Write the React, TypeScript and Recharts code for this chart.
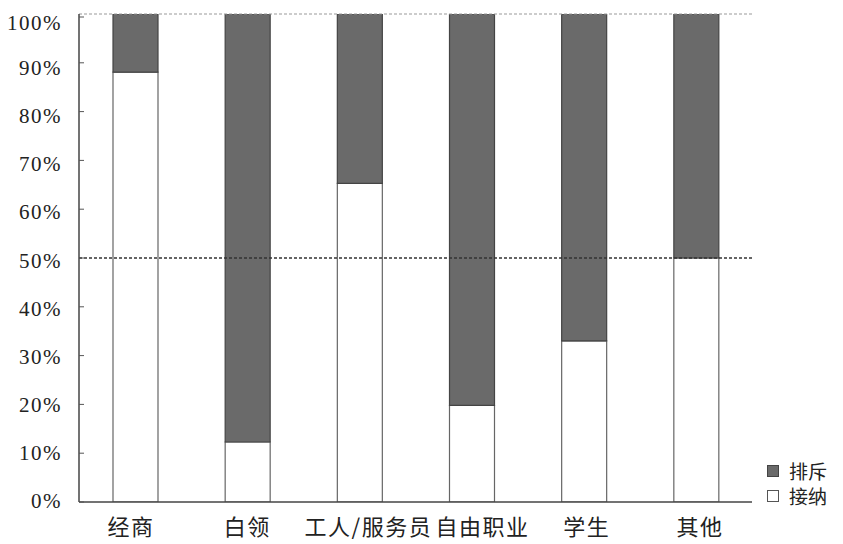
import React from 'react';
import { BarChart, Bar, XAxis, YAxis, ReferenceLine, Legend } from 'recharts';

const categories = ['经商', '白领', '工人/服务员', '自由职业', '学生', '其他'];
const acceptValues = [88.1, 12.3, 65.3, 19.8, 33.0, 50.0];
const rejectValues = [11.9, 87.7, 34.7, 80.2, 67.0, 50.0];
const yTicks = [0, 10, 20, 30, 40, 50, 60, 70, 80, 90, 100];
const legendItems = [
  { name: '排斥', fill: '#6a6a6a', stroke: '#444' },
  { name: '接纳', fill: '#ffffff', stroke: '#555' },
];

const data = categories.map((c, i) => ({ name: c, accept: acceptValues[i], reject: rejectValues[i] }));

const SERIF = '"Liberation Serif", "DejaVu Serif", serif';
const CJK = '"Noto Sans CJK SC", "Liberation Serif", serif';
const labelShift = [-4, 0, 9, 11, 3, 4];

const YTick = (props: any) => {
  const { x, y, payload } = props;
  const shift = (payload.value / 100) * 7 - 1;
  return (
    <g>
      <line x1={x + 8} x2={x + 13} y1={y} y2={y} stroke="#555" strokeWidth={1} />
      <text
        x={x - 9}
        y={y + shift}
        dy={7}
        textAnchor="end"
        style={{ fontFamily: SERIF, fontSize: 21, letterSpacing: 1.5 }}
        fill="#222"
      >
        {`${payload.value}%`}
      </text>
    </g>
  );
};

const XTick = (props: any) => {
  const { x, y, payload, index } = props;
  return (
    <text
      x={x + (labelShift[index] || 0)}
      y={y + 25}
      textAnchor="middle"
      style={{ fontFamily: CJK, fontSize: 22, letterSpacing: 1.5 }}
      fill="#222"
    >
      {payload.value}
    </text>
  );
};

const LegendContent = () => (
  <div style={{ fontFamily: CJK, fontSize: 19, color: '#222' }}>
    {legendItems.map((it) => (
      <div key={it.name} style={{ display: 'flex', alignItems: 'center', height: 25, lineHeight: '22px' }}>
        <span
          style={{
            display: 'inline-block',
            width: 10,
            height: 10,
            background: it.fill,
            border: `1px solid ${it.stroke}`,
            marginRight: 10,
          }}
        />
        <span>{it.name}</span>
      </div>
    ))}
  </div>
);

export default function App() {
  return (
    <BarChart
      width={835}
      height={536}
      data={data}
      margin={{ top: 6, right: 11, left: 0, bottom: 0 }}
      barSize={45}
    >
      <XAxis
        dataKey="name"
        height={42}
        axisLine={{ stroke: '#444', strokeWidth: 1.5 }}
        tickLine={false}
        tick={<XTick />}
        interval={0}
      />
      <YAxis
        yAxisId="l"
        width={71}
        domain={[0, 100]}
        ticks={yTicks}
        axisLine={{ stroke: '#444', strokeWidth: 1.5 }}
        tickLine={false}
        tick={<YTick />}
        allowDataOverflow
      />
      <YAxis
        yAxisId="r"
        orientation="right"
        width={0}
        domain={[0, 100]}
        tick={false}
        tickLine={false}
        axisLine={{ stroke: '#999', strokeDasharray: '3 2' }}
      />
      <ReferenceLine yAxisId="l" y={100} stroke="#999" strokeDasharray="3 2" />
      <Bar yAxisId="l" dataKey="accept" name="接纳" stackId="a" fill="#ffffff" stroke="#666" strokeWidth={1.2} isAnimationActive={false} />
      <Bar yAxisId="l" dataKey="reject" name="排斥" stackId="a" fill="#6a6a6a" stroke="#444" strokeWidth={1.2} isAnimationActive={false} />
      <ReferenceLine yAxisId="l" y={50} stroke="#333" strokeWidth={1.5} strokeDasharray="3 2" />
      <Legend
        layout="vertical"
        align="right"
        verticalAlign="bottom"
        content={<LegendContent />}
        wrapperStyle={{ width: 80, left: 759, top: 450, right: 'auto', bottom: 'auto' }}
      />
    </BarChart>
  );
}
